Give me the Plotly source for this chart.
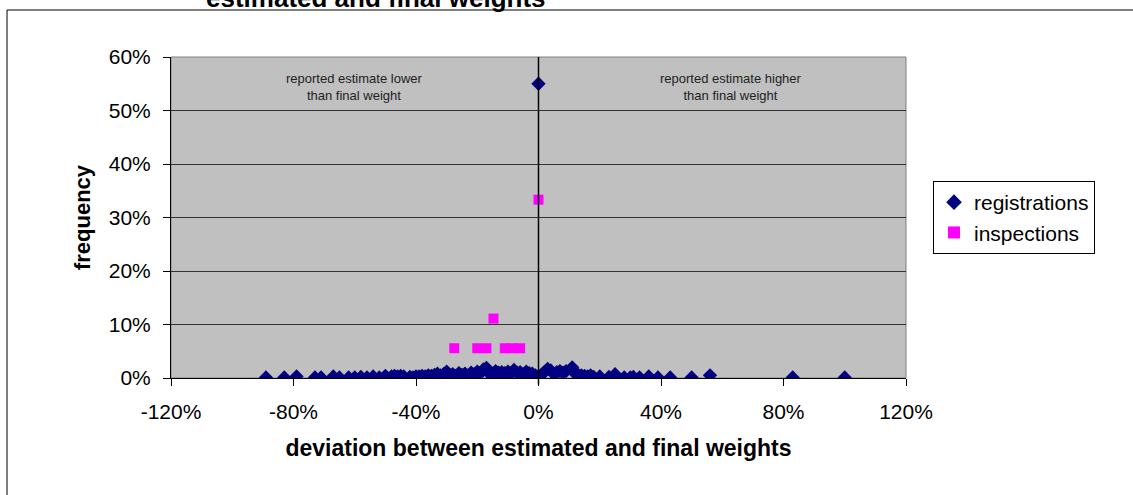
import plotly.graph_objects as go

# deviation (%) and frequency (%)
reg_dev = [-89, -83, -79, -73, -71, -67, -65, -62, -60, -58, -56, -54, -52, -50, -48, -47, -46, -45,
           -44, -42, -41, -40, -39, -38, -37, -36, -35, -34, -33, -32, -31, -30, -29, -28, -27, -26,
           -25, -24, -23, -22, -21, -20, -19, -18, -17, -16, -15, -14, -13, -12, -11, -10, -9, -8,
           -7, -6, -5, -4, -3, -2, -1, 0, 0, 1, 2, 3, 4, 5, 6, 7, 8, 9, 11, 12, 13, 14, 15, 16, 17,
           18, 20, 23, 25, 28, 30, 31, 33, 36, 39, 43, 50, 56, 83, 100]
reg_freq = [0.1, 0.1, 0.3, 0.1, 0.1, 0.3, 0.1, 0.1, 0.1, 0.2, 0.1, 0.3, 0.1, 0.4, 0.3, 0.4, 0.3, 0.4,
            0.3, 0.2, 0.1, 0.3, 0.3, 0.4, 0.3, 0.5, 0.4, 0.6, 0.8, 0.5, 0.7, 1.2, 0.6, 0.7, 0.4, 0.9,
            0.6, 0.8, 0.5, 1.0, 0.7, 1.2, 0.9, 1.6, 1.9, 0.8, 0.2, 1.3, 1.0, 1.1, 0.9, 1.2, 0.8, 1.5,
            1.0, 1.1, 0.7, 1.2, 0.9, 0.8, 0.5, 55.0, 0.3, 0.6, 1.2, 1.7, 1.4, 0.8, 1.1, 1.3, 1.0, 1.3,
            2.0, 0.8, 0.6, 0.5, 0.4, 0.3, 0.5, 0.2, 0.3, 0.2, 0.7, 0.1, 0.1, 0.2, 0.1, 0.3, 0.1, 0.1,
            0.1, 0.5, 0.1, 0.1, 0.1]

insp_dev = [-27.5, -20, -17, -14.7, -11, -8.5, -6, 0]
insp_freq = [5.56, 5.56, 5.56, 11.11, 5.56, 5.56, 5.56, 33.33]

x_ticks = [-1.2, -0.8, -0.4, 0, 0.4, 0.8, 1.2]
x_labels = ["-120%", "-80%", "-40%", "0%", "40%", "80%", "120%"]
y_ticks = [0, 0.1, 0.2, 0.3, 0.4, 0.5, 0.6]
y_labels = ["0%", "10%", "20%", "30%", "40%", "50%", "60%"]

FONT = "Liberation Sans, Arial, sans-serif"

fig = go.Figure()
fig.add_trace(go.Scatter(
    x=[d / 100 for d in reg_dev], y=[f / 100 for f in reg_freq], mode="markers", name="registrations",
    marker=dict(symbol="diamond", size=11, color="#000080", line=dict(width=0)),
))
fig.add_trace(go.Scatter(
    x=[d / 100 for d in insp_dev], y=[f / 100 for f in insp_freq], mode="markers", name="inspections",
    marker=dict(symbol="square", size=10, color="#FF00FF", line=dict(width=0)),
))

# plot area frame in gray
fig.add_shape(type="rect", xref="paper", yref="paper", x0=0, x1=1, y0=0, y1=1,
              line=dict(color="#808080", width=1), layer="below")
# vertical line at zero
fig.add_shape(type="line", xref="x", yref="paper", x0=0, x1=0, y0=-0.02, y1=1,
              line=dict(color="black", width=1.5))
# outer chart border
fig.add_shape(type="rect", xref="paper", yref="paper", x0=-0.2231, x1=1.31, y0=-0.5, y1=1.1464,
              line=dict(color="black", width=1), layer="below")

fig.add_annotation(x=-0.60, y=0.544, yanchor="middle", text="reported estimate lower<br>than final weight",
                   showarrow=False, font=dict(family=FONT, size=13, color="#222222"))
fig.add_annotation(x=0.63, y=0.544, yanchor="middle", text="reported estimate higher<br>than final weight",
                   showarrow=False, font=dict(family=FONT, size=13, color="#222222"))
# title line cut off at the top edge, as in the source
fig.add_annotation(xref="paper", yref="paper", x=(376 - 171) / 735, y=1.184,
                   xanchor="center", yanchor="middle",
                   text="<b>estimated and final weights</b>", showarrow=False,
                   font=dict(family=FONT, size=26, color="black"))

fig.update_layout(
    width=1133, height=495,
    margin=dict(l=171, r=227, t=57, b=117, autoexpand=False),
    paper_bgcolor="white", plot_bgcolor="#C0C0C0",
    font=dict(family=FONT, size=21, color="black"),
    showlegend=True,
    legend=dict(x=(933 - 171) / 735, y=(378 - 181) / 321, xanchor="left", yanchor="top",
                bgcolor="white", bordercolor="black", borderwidth=1,
                font=dict(family=FONT, size=21), itemsizing="constant"),
    xaxis=dict(range=[-1.2, 1.2], tickvals=x_ticks, ticktext=x_labels, showgrid=False, zeroline=False,
               ticks="outside", ticklen=7, tickcolor="black", showline=True, linecolor="black",
               ticklabelstandoff=8, automargin=False,
               title=dict(text="<b>deviation between estimated and final weights</b>",
                          font=dict(size=23), standoff=17)),
    yaxis=dict(range=[0, 0.6], tickvals=y_ticks, ticktext=y_labels, showgrid=True, gridcolor="#333333",
               gridwidth=1, zeroline=False, ticks="outside", ticklen=7, tickcolor="black",
               showline=True, linecolor="black", ticklabelstandoff=8, automargin=False,
               title=dict(text="<b>frequency</b>", font=dict(size=22), standoff=12)),
)

fig.write_html("out.html", config={"displayModeBar": False},
               post_script="document.body.style.margin='0';")
